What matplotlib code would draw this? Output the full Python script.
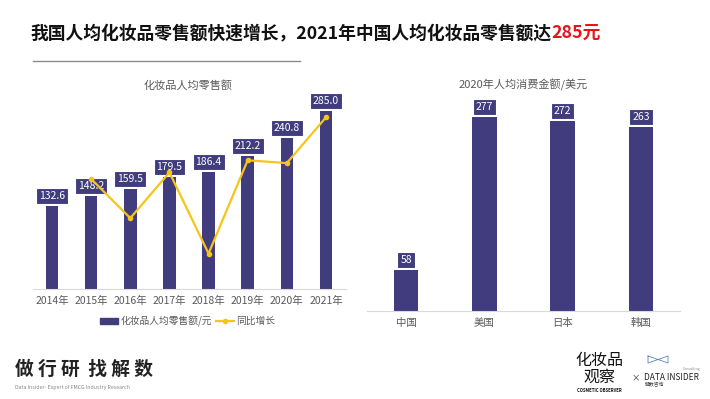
import numpy as np
import matplotlib.pyplot as plt
from matplotlib.lines import Line2D
from matplotlib.patches import Patch

plt.rcParams['font.family'] = ['Noto Sans CJK SC', 'DejaVu Sans']

years = ['2014年', '2015年', '2016年', '2017年', '2018年', '2019年', '2020年', '2021年']
per_capita = [132.6, 148.2, 159.5, 179.5, 186.4, 212.2, 240.8, 285.0]
growth = [np.nan, 11.8, 7.6, 12.5, 3.8, 13.8, 13.5, 18.4]

countries = ['中国', '美国', '日本', '韩国']
spend_usd = [58, 277, 272, 263]

purple = '#403C7E'
yellow = '#F5C518'
grey = '#595959'

W, H = 710, 399
fig = plt.figure(figsize=(W / 100, H / 100), dpi=100)

def ax_rect(x0, x1, ytop, ybot):
    return [x0 / W, 1 - ybot / H, (x1 - x0) / W, (ybot - ytop) / H]

# left chart
ax1 = fig.add_axes(ax_rect(32.5, 345.5, 95, 289))
x = np.arange(len(years))
ax1.bar(x, per_capita, width=0.32, color=purple, zorder=2)
ax1.set_xlim(-0.5, len(years) - 0.5)
ax1.set_ylim(0, 310)
for xi, v in zip(x, per_capita):
    ax1.annotate(f'{v:.1f}', (xi, v), xytext=(0, 10), textcoords='offset pixels',
                 ha='center', va='center', color='white', fontsize=7.5,
                 bbox=dict(boxstyle='square,pad=0.28', fc=purple, ec='white', lw=0.8),
                 zorder=5)
ax2 = ax1.twinx()
ax2.plot(x, growth, color=yellow, lw=1.6, marker='o', ms=3, zorder=4)
ax2.set_ylim(0, 20.8)
ax2.axis('off')

# right chart
ax3 = fig.add_axes(ax_rect(367, 680, 95, 311))
xc = np.arange(len(countries))
ax3.bar(xc, spend_usd, width=0.31, color=purple)
ax3.set_xlim(-0.5, len(countries) - 0.5)
ax3.set_ylim(0, 308.6)
for xi, v in zip(xc, spend_usd):
    ax3.annotate(str(v), (xi, v), xytext=(0, 10), textcoords='offset pixels',
                 ha='center', va='center', color='white', fontsize=7.5,
                 bbox=dict(boxstyle='square,pad=0.28', fc=purple, ec='white', lw=0.8))

for ax, labels in [(ax1, years), (ax3, countries)]:
    ax.set_xticks(np.arange(len(labels)))
    ax.set_xticklabels(labels, color=grey, fontsize=7.5)
    ax.tick_params(axis='x', length=0, pad=5)
    ax.set_yticks([])
    for s in ['left', 'right', 'top']:
        ax.spines[s].set_visible(False)
    ax.spines['bottom'].set_color('#D9D9D9')
    ax.patch.set_alpha(0)

fig.text(188 / W, 1 - 85 / H, '化妆品人均零售额', ha='center', va='center', color=grey, fontsize=8)
fig.text(523 / W, 1 - 85 / H, '2020年人均消费金额/美元', ha='center', va='center', color=grey, fontsize=8)

handles = [Patch(color=purple), Line2D([], [], color=yellow, lw=1.6, marker='o', ms=3)]
fig.legend(handles, ['化妆品人均零售额/元', '同比增长'], loc='center', bbox_to_anchor=(188 / W, 1 - 321 / H),
           ncol=2, frameon=False, fontsize=7, handlelength=1.8, handleheight=0.6,
           columnspacing=0.4, handletextpad=0.3, labelcolor=grey)

# main title
t = fig.text(30 / W, 1 - 33 / H, '我国人均化妆品零售额快速增长，2021年中国人均化妆品零售额达',
             ha='left', va='center', fontsize=12.8, fontweight='heavy', color='#111111')
fig.canvas.draw()
bb = t.get_window_extent()
fig.text(bb.x1 / W, 1 - 33 / H, '285元', ha='left', va='center', fontsize=12.8,
         fontweight='heavy', color='#E8141B')
fig.add_artist(Line2D([33 / W, 300 / W], [1 - 61 / H] * 2, color='#8C8C8C', lw=1))

# footer
fig.text(15 / W, 1 - 369 / H, '做 行 研  找 解 数', ha='left', va='center', fontsize=13.5,
         fontweight='bold', color='#222222')
fig.text(15 / W, 1 - 387 / H, 'Data Insider- Expert of FMCG Industry Research', ha='left',
         va='center', fontsize=3.8, color='#888888')

fig.text(599 / W, 1 - 360 / H, '化妆品', ha='center', va='center', fontsize=11.5,
         fontweight='medium', color='#111111')
fig.text(599 / W, 1 - 377 / H, '观察', ha='center', va='center', fontsize=11.5,
         fontweight='medium', color='#111111')
fig.text(599 / W, 1 - 390 / H, 'COSMETIC OBSERVER', ha='center', va='center', fontsize=3,
         fontweight='bold', color='#111111')
fig.text(636 / W, 1 - 378 / H, '×', ha='center', va='center', fontsize=6, color='#333333')
fig.add_artist(Line2D([648 / W, 668 / W, 668 / W, 648 / W, 648 / W],
                      [1 - 356 / H, 1 - 363 / H, 1 - 356 / H, 1 - 363 / H, 1 - 356 / H],
                      color='#5A86C5', lw=0.6))
fig.text(692 / W, 1 - 369 / H, 'Consulting', ha='center', va='center', fontsize=2.5, color='#888888')
fig.text(671 / W, 1 - 377 / H, 'DATA INSIDER', ha='center', va='center', fontsize=6, color='#222222')
fig.text(655 / W, 1 - 385 / H, '解数咨询', ha='center', va='center', fontsize=3.5, color='#444444')

fig.savefig('out.png', dpi=100, facecolor='white')
